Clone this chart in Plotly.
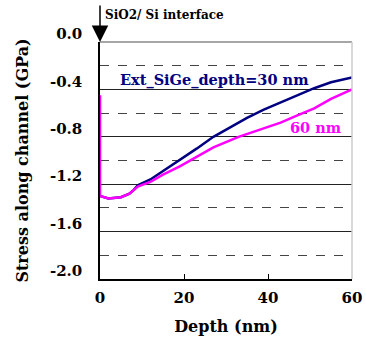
import plotly.graph_objects as go

# Stress profile along the channel vs depth below the SiO2/Si interface
depth_30 = [0, 2, 5, 7, 8, 9, 12, 15, 19, 23, 27, 31, 35, 39, 43, 47, 51, 55, 60]
stress_30 = [-1.30, -1.32, -1.31, -1.28, -1.25, -1.21, -1.16, -1.09, -1.00, -0.90,
             -0.80, -0.72, -0.64, -0.57, -0.51, -0.45, -0.39, -0.34, -0.30]

depth_60 = [0, 0, 2, 5, 7, 8, 9, 12, 15, 19, 23, 27, 33, 38, 43, 47, 51, 55, 60]
stress_60 = [-0.45, -1.30, -1.32, -1.31, -1.28, -1.25, -1.22, -1.18, -1.12, -1.05,
             -0.97, -0.89, -0.80, -0.74, -0.68, -0.62, -0.56, -0.48, -0.40]

x_ticks = [0, 20, 40, 60]
y_ticks = [0.0, -0.4, -0.8, -1.2, -1.6, -2.0]
y_tick_labels = ["0.0", "-0.4", "-0.8", "-1.2", "-1.6", "-2.0"]

NAVY = "#000080"
MAGENTA = "#FF00FF"
FONT = "DejaVu Serif"

fig = go.Figure()
fig.add_trace(go.Scatter(x=depth_30, y=stress_30, mode="lines",
                         line=dict(color=NAVY, width=2.5), showlegend=False))
fig.add_trace(go.Scatter(x=depth_60, y=stress_60, mode="lines",
                         line=dict(color=MAGENTA, width=2.5), showlegend=False))

fig.update_layout(
    width=365, height=345,
    margin=dict(l=100, r=13, t=42, b=66, autoexpand=False),
    paper_bgcolor="white", plot_bgcolor="white",
    font=dict(family=FONT, color="black"),
    xaxis=dict(
        range=[0, 60], tickvals=x_ticks, ticks="inside", ticklen=5,
        tickcolor="black", showgrid=False, zeroline=False, automargin=False,
        showline=True, linecolor="black", linewidth=1.5,
        tickfont=dict(size=15, family=FONT, weight="bold"),
        ticklabelstandoff=4,
        title=dict(text="<b>Depth (nm)</b>", font=dict(size=16, family=FONT), standoff=15),
    ),
    yaxis=dict(
        range=[-2.0, 0.0], tickvals=y_ticks, ticktext=y_tick_labels,
        ticks="", showgrid=True, gridcolor="#222222", gridwidth=1,
        zeroline=False, showline=True, linecolor="black", linewidth=1.5,
        automargin=False,
        minor=dict(dtick=0.2, tick0=0, showgrid=True, gridcolor="#444444",
                   griddash="dash", gridwidth=1),
        tickfont=dict(size=15, family=FONT, weight="bold"),
        ticklabelstandoff=13, ticklabelshift=-8,
        title=dict(text="<b>Stress along channel (GPa)</b>", font=dict(size=16, family=FONT),
                   standoff=17),
    ),
)

# top frame line and right border
fig.add_shape(type="line", xref="paper", yref="paper", x0=0, x1=1, y0=1, y1=1,
              line=dict(color="#888888", width=1.5))
fig.add_shape(type="line", xref="paper", yref="paper", x0=1, x1=1, y0=0, y1=1,
              line=dict(color="#cccccc", width=1.5))

# interface marker arrow
fig.add_annotation(x=0, y=0, xref="x", yref="y", ax=0, ay=-38, text="",
                   showarrow=True, arrowhead=2, arrowsize=2.2, arrowwidth=1.5,
                   arrowcolor="black")
fig.add_annotation(x=0, y=1, xref="x", yref="paper", yshift=27, xshift=3,
                   text="<b>SiO2/ Si interface</b>", showarrow=False,
                   xanchor="left", yanchor="middle",
                   font=dict(size=12, family=FONT, color="black"))

# series labels
fig.add_annotation(x=4.2, y=-0.32, xref="x", yref="y", text="<b>Ext_SiGe_depth=30 nm</b>",
                   showarrow=False, xanchor="left", yanchor="middle",
                   font=dict(size=14.5, family=FONT, color=NAVY))
fig.add_annotation(x=51.4, y=-0.72, xref="x", yref="y", text="<b>60 nm</b>",
                   showarrow=False, xanchor="center", yanchor="middle",
                   font=dict(size=14.5, family=FONT, color=MAGENTA))

fig.write_html("out.html")
